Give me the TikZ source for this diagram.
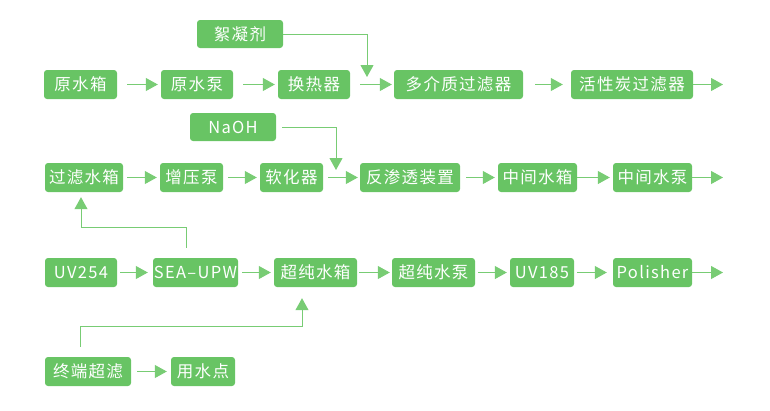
\documentclass[tikz,border=0pt]{standalone}
\usepackage{fontspec}
\setmainfont[LetterSpace=8]{Noto Sans CJK SC}
\usepackage{tikz}
\usetikzlibrary{calc, arrows.meta}
\definecolor{BoxGreen}{RGB}{104,196,100}
\definecolor{LineGreen}{RGB}{120,204,116}
\newcommand{\Height}{29pt}
\tikzset{GreenBox/.style={
    inner sep=0pt,
    minimum height=\Height,
    draw=none,
    fill=BoxGreen,
    rounded corners=3pt,
    text=white,
    font=\fontsize{16.5pt}{18pt}\selectfont,
    align=center
    }
}
\tikzset{flow/.style={
    draw=LineGreen,
    line width=1pt,
    shorten <=4pt,
    shorten >=3pt
    }
}

\begin{document}
\begin{tikzpicture}[x=1pt, y=-1pt, >={Triangle[length=12pt,width=13pt]}]
    \useasboundingbox (0,0) rectangle (770,410);

    % row 1
    \node (Floc)[GreenBox, minimum width=86pt, minimum height=28pt] at (240,34) {絮凝剂};
    \node (RawTank)[GreenBox, minimum width=73pt] at (80.5,84.5) {原水箱};
    \node (RawPump)[GreenBox, minimum width=72pt] at (197,84.5) {原水泵};
    \node (HeatEx)[GreenBox, minimum width=72pt] at (314,84.5) {换热器};
    \node (MMF)[GreenBox, minimum width=129pt] at (458.5,84.5) {多介质过滤器};
    \node (ACF)[GreenBox, minimum width=122pt] at (632,84.5) {活性炭过滤器};
    \coordinate (e1) at (723,84.5);
    \coordinate (f1) at (367,77);
        \draw [->, flow, shorten <=10pt] (RawTank) -- (RawPump);
        \draw [->, flow, shorten <=10pt] (RawPump) -- (HeatEx);
        \draw [->, flow, shorten <=10pt, shorten >=2pt] (HeatEx) -- (MMF);
        \draw [->, flow, shorten <=12pt, shorten >=8pt] (MMF) -- (ACF);
        \draw [->, flow, shorten <=0pt, shorten >=0pt] (ACF) -- (e1);
        \draw [->, flow, shorten <=0pt, shorten >=0pt] (Floc.east) -| (f1);

    % row 2
    \node (NaOH)[GreenBox, minimum width=86pt, minimum height=28pt] at (233,127) {NaOH};
    \node (FiltTank)[GreenBox, minimum width=78pt] at (84,177.5) {过滤水箱};
    \node (BoostPump)[GreenBox, minimum width=63pt] at (191.5,177.5) {增压泵};
    \node (Softener)[GreenBox, minimum width=63pt] at (291.5,177.5) {软化器};
    \node (RO)[GreenBox, minimum width=100pt] at (410,177.5) {反渗透装置};
    \node (MidTank)[GreenBox, minimum width=79pt] at (537.5,177.5) {中间水箱};
    \node (MidPump)[GreenBox, minimum width=79pt] at (652.5,177.5) {中间水泵};
    \coordinate (e2) at (723,177.5);
    \coordinate (f2) at (336,170);
        \draw [->, flow] (FiltTank) -- (BoostPump);
        \draw [->, flow, shorten <=5pt] (BoostPump) -- (Softener);
        \draw [->, flow, shorten <=5pt, shorten >=2pt] (Softener) -- (RO);
        \draw [->, flow, shorten <=6pt] (RO) -- (MidTank);
        \draw [->, flow, shorten <=0pt] (MidTank) -- (MidPump);
        \draw [->, flow, shorten <=0pt, shorten >=0pt] (MidPump) -- (e2);
        \draw [->, flow, shorten <=6pt, shorten >=0pt] (NaOH.east) -| (f2);

    % row 3
    \node (UV254)[GreenBox, minimum width=72pt] at (81,272.5) {UV254};
    \node (SEA)[GreenBox, minimum width=85pt] at (195.5,272.5) {SEA–UPW};
    \node (UPWTank)[GreenBox, minimum width=83pt] at (315.5,272.5) {超纯水箱};
    \node (UPWPump)[GreenBox, minimum width=83pt] at (433.5,272.5) {超纯水泵};
    \node (UV185)[GreenBox, minimum width=64pt] at (542,272.5) {UV185};
    \node (Polisher)[GreenBox, minimum width=79pt] at (652.5,272.5) {Polisher};
    \coordinate (e3) at (723,272.5);
    \coordinate (k1) at (186,227);
        \draw [->, flow, shorten <=3pt, shorten >=5pt] (UV254) -- (SEA);
        \draw [->, flow] (SEA) -- (UPWTank);
        \draw [->, flow, shorten <=2pt, shorten >=2pt] (UPWTank) -- (UPWPump);
        \draw [->, flow, shorten <=3pt] (UPWPump) -- (UV185);
        \draw [->, flow, shorten <=3pt, shorten >=6pt] (UV185) -- (Polisher);
        \draw [->, flow, shorten <=0pt, shorten >=0pt] (Polisher) -- (e3);
        \draw [->, flow, shorten <=10pt, shorten >=5pt] ([xshift=-9.5pt]SEA.north) -- (k1) -| ([xshift=-3pt]FiltTank.south);

    % row 4
    \node (UF)[GreenBox, minimum width=86pt] at (88,371.5) {终端超滤};
    \node (POU)[GreenBox, minimum width=64pt] at (203,371.5) {用水点};
    \coordinate (k2) at (80,326);
        \draw [->, flow, shorten <=6pt, shorten >=4pt] (UF) -- (POU);
        \draw [->, flow, shorten <=10pt, shorten >=11pt] ([xshift=-8pt]UF.north) -- (k2) -| ([xshift=-13.5pt]UPWTank.south);

\end{tikzpicture}
\end{document}
